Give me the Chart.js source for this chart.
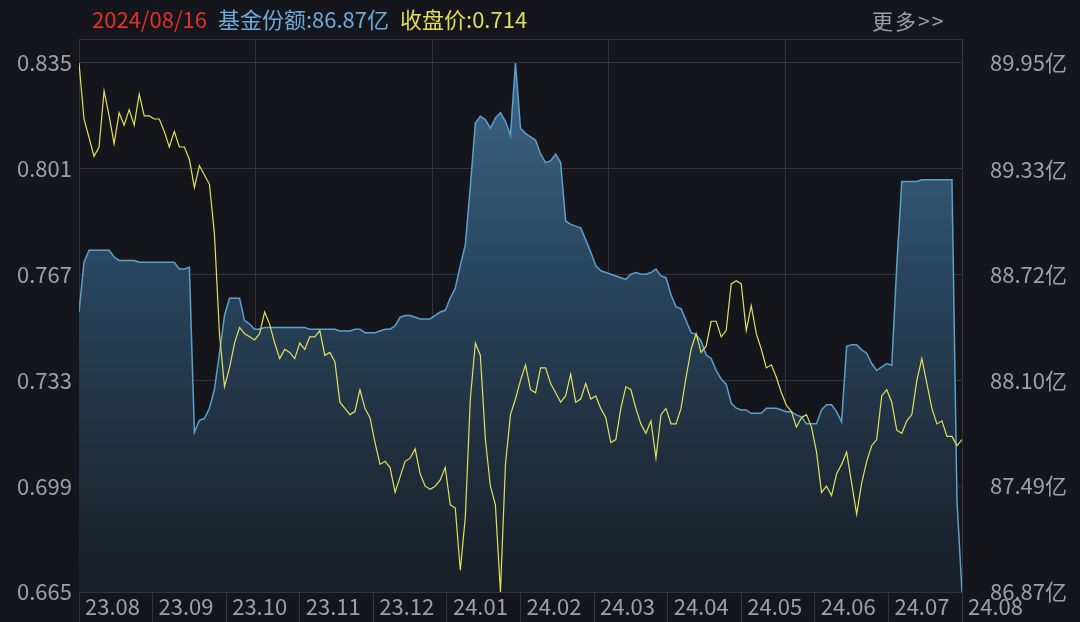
<!DOCTYPE html>
<html>
<head>
<meta charset="utf-8">
<script src="https://cdn.jsdelivr.net/npm/chart.js@4.4.1/dist/chart.umd.min.js"></script>
<style>
  html, body { margin: 0; padding: 0; background: #14161c; }
  #wrap { position: relative; width: 1080px; height: 622px; overflow: hidden; background: #14161c; }
  #head { position: absolute; left: 92px; top: 3px; font: 22px "Noto Sans CJK SC", sans-serif; white-space: nowrap; line-height: 30px; }
  #head span { margin-right: 11px; }
  #more { position: absolute; left: 872px; top: 5px; font: 21px "Noto Sans CJK SC", sans-serif; color: #9a9fa6; line-height: 30px; letter-spacing: 2px; }
  canvas { position: absolute; left: 0; top: 0; }
</style>
</head>
<body>
<div id="wrap">
  <canvas id="chart_0" width="1080" height="622"></canvas>
  <div id="head">
    <span style="color:#e2312c">2024/08/16</span><span style="color:#6ea9d8">基金份额:86.87亿</span><span style="color:#e0dd5a">收盘价:0.714</span>
  </div>
  <div id="more">更多&gt;&gt;</div>
</div>
<script>
const monthLabels = ['23.08', '23.09', '23.10', '23.11', '23.12', '24.01', '24.02', '24.03', '24.04', '24.05', '24.06', '24.07', '24.08']
const priceTicks = [0.665, 0.699, 0.733, 0.767, 0.801, 0.835]
const shareTicks = [86.87, 87.49, 88.10, 88.72, 89.33, 89.95]

// 收盘价
const priceValues = [
  0.835, 0.817, 0.811, 0.805, 0.808, 0.826, 0.818, 0.809, 0.819, 0.815,
  0.820, 0.815, 0.825, 0.818, 0.818, 0.817, 0.817, 0.813, 0.808, 0.813,
  0.808, 0.808, 0.804, 0.795, 0.802, 0.799, 0.796, 0.780, 0.748, 0.731,
  0.737, 0.745, 0.750, 0.748, 0.747, 0.746, 0.748, 0.755, 0.751, 0.745,
  0.740, 0.743, 0.742, 0.740, 0.745, 0.743, 0.747, 0.747, 0.749, 0.741,
  0.742, 0.739, 0.726, 0.724, 0.722, 0.723, 0.730, 0.724, 0.721, 0.713,
  0.706, 0.707, 0.705, 0.697, 0.702, 0.707, 0.708, 0.711, 0.703, 0.699,
  0.698, 0.699, 0.701, 0.705, 0.693, 0.692, 0.672, 0.689, 0.727, 0.745,
  0.741, 0.714, 0.699, 0.693, 0.665, 0.706, 0.722, 0.727, 0.733, 0.738,
  0.730, 0.729, 0.737, 0.737, 0.732, 0.729, 0.726, 0.728, 0.735, 0.726,
  0.727, 0.732, 0.727, 0.728, 0.724, 0.721, 0.713, 0.714, 0.724, 0.731,
  0.730, 0.724, 0.719, 0.716, 0.720, 0.708, 0.722, 0.724, 0.719, 0.719,
  0.724, 0.734, 0.743, 0.748, 0.742, 0.744, 0.752, 0.752, 0.747, 0.749,
  0.764, 0.765, 0.764, 0.749, 0.757, 0.748, 0.743, 0.737, 0.738, 0.734,
  0.729, 0.725, 0.723, 0.718, 0.721, 0.722, 0.718, 0.710, 0.697, 0.699,
  0.696, 0.703, 0.706, 0.710, 0.700, 0.690, 0.700, 0.707, 0.712, 0.714,
  0.728, 0.730, 0.726, 0.717, 0.716, 0.720, 0.722, 0.733, 0.740, 0.732,
  0.724, 0.719, 0.720, 0.715, 0.715, 0.712, 0.714
]

// 基金份额 (亿)
const shareValues = [
  88.50, 88.79, 88.86, 88.86, 88.86, 88.86, 88.86, 88.82, 88.80, 88.80,
  88.80, 88.80, 88.79, 88.79, 88.79, 88.79, 88.79, 88.79, 88.79, 88.79,
  88.75, 88.75, 88.76, 87.80, 87.87, 87.88, 87.94, 88.05, 88.26, 88.48,
  88.58, 88.58, 88.58, 88.45, 88.43, 88.40, 88.40, 88.41, 88.41, 88.41,
  88.41, 88.41, 88.41, 88.41, 88.41, 88.41, 88.40, 88.40, 88.40, 88.40,
  88.40, 88.40, 88.39, 88.39, 88.39, 88.40, 88.40, 88.38, 88.38, 88.38,
  88.39, 88.40, 88.40, 88.42, 88.47, 88.48, 88.48, 88.47, 88.46, 88.46,
  88.46, 88.48, 88.50, 88.51, 88.58, 88.64, 88.77, 88.89, 89.23, 89.60,
  89.64, 89.62, 89.57, 89.63, 89.66, 89.61, 89.53, 89.95, 89.57, 89.54,
  89.52, 89.50, 89.42, 89.37, 89.38, 89.42, 89.37, 89.03, 89.01, 89.00,
  88.99, 88.92, 88.85, 88.77, 88.74, 88.73, 88.72, 88.71, 88.70, 88.69,
  88.72, 88.73, 88.72, 88.72, 88.73, 88.75, 88.71, 88.70, 88.60, 88.53,
  88.52, 88.45, 88.38, 88.37, 88.33, 88.25, 88.23, 88.16, 88.11, 88.08,
  87.97, 87.94, 87.93, 87.93, 87.91, 87.91, 87.91, 87.94, 87.94, 87.94,
  87.93, 87.92, 87.92, 87.90, 87.89, 87.85, 87.85, 87.85, 87.93, 87.96,
  87.96, 87.92, 87.86, 88.30, 88.31, 88.31, 88.28, 88.26, 88.20, 88.16,
  88.18, 88.20, 88.19, 88.77, 89.26, 89.26, 89.26, 89.26, 89.27, 89.27,
  89.27, 89.27, 89.27, 89.27, 89.27, 87.40, 86.87
]

const gridColor = '#32363c'
const labelColor = '#9ca1a8'
const labelFont = { family: '"Noto Sans CJK SC", sans-serif', size: 22 }
const lastIdx = priceValues.length - 1

function shareFill(ctx) {
  const area = ctx.chart.chartArea
  if (!area) return 'rgba(60,100,135,0.5)'
  const g = ctx.chart.ctx.createLinearGradient(0, area.top, 0, area.bottom)
  g.addColorStop(0, '#3e6b8e')
  g.addColorStop(0.45, '#28435a')
  g.addColorStop(1, '#181e26')
  return g
}

function noPad(s) {
  s.paddingTop = 0
  s.paddingBottom = 0
  s.paddingLeft = 0
  s.paddingRight = 0
}

function renderChart() {
  new Chart(document.getElementById('chart_0'), {
    type: 'line',
    data: {
      datasets: [
        {
          label: '收盘价',
          data: priceValues.map((v, i) => ({ x: i, y: v })),
          yAxisID: 'y',
          order: 0,
          borderColor: '#e2e05c',
          borderWidth: 1.2,
          fill: false,
          pointRadius: 0,
          tension: 0
        },
        {
          label: '基金份额',
          data: shareValues.map((v, i) => ({ x: i, y: v })),
          yAxisID: 'y2',
          order: 1,
          borderColor: '#5d9fcc',
          borderWidth: 1.5,
          backgroundColor: shareFill,
          fill: 'start',
          pointRadius: 0,
          tension: 0
        }
      ]
    },
    options: {
      responsive: false,
      animation: false,
      layout: { padding: { top: 39, left: 0, right: 0, bottom: 0 } },
      plugins: { legend: { display: false }, tooltip: { enabled: false } },
      scales: {
        x: {
          type: 'linear', position: 'bottom', min: 0, max: lastIdx,
          afterBuildTicks: s => { s.ticks = monthLabels.map((_, k) => ({ value: k * lastIdx / (monthLabels.length - 1) })) },
          afterFit: s => { s.height = 30; noPad(s) },
          ticks: {
            color: labelColor, font: labelFont, align: 'start', labelOffset: 6, padding: -29,
            autoSkip: false, maxRotation: 0, callback: (v, i) => monthLabels[i]
          },
          grid: { drawOnChartArea: false, tickLength: 30, color: gridColor },
          border: { display: true, color: gridColor }
        },
        xg: {
          type: 'linear', position: 'top', min: 0, max: 5,
          afterFit: s => { s.height = 0; noPad(s) },
          ticks: { display: false, stepSize: 1 },
          grid: { color: gridColor, drawTicks: false },
          border: { display: true, color: gridColor }
        },
        y: {
          position: 'left', min: 0.665, max: 0.8427,
          afterBuildTicks: s => { s.ticks = priceTicks.map(v => ({ value: v })) },
          afterFit: s => { s.width = 79; noPad(s) },
          ticks: { color: labelColor, font: labelFont, padding: 7, callback: v => v.toFixed(3) },
          grid: { color: gridColor, drawTicks: false },
          border: { display: true, color: gridColor }
        },
        y2: {
          position: 'right', min: 86.87, max: 90.0895,
          afterBuildTicks: s => { s.ticks = shareTicks.map(v => ({ value: v })) },
          afterFit: s => { s.width = 118; noPad(s) },
          ticks: { color: labelColor, font: labelFont, padding: 28, callback: v => v.toFixed(2) + '亿' },
          grid: { drawOnChartArea: false, drawTicks: false },
          border: { display: true, color: gridColor }
        }
      }
    }
  })
}

renderChart()
</script>
</body>
</html>
